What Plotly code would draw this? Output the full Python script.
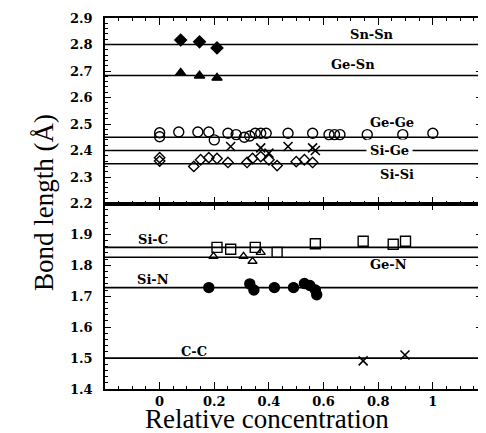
import numpy as np
import plotly.graph_objects as go
from plotly.subplots import make_subplots

# ---- data ----
# reference bond lengths (horizontal lines)
top_bonds = ["Sn-Sn", "Ge-Sn", "Ge-Ge", "Si-Ge", "Si-Si"]
top_lengths = [2.80, 2.683, 2.45, 2.40, 2.35]
bot_bonds = ["Si-C", "Ge-N", "Si-N", "C-C"]
bot_lengths = [1.858, 1.826, 1.728, 1.50]

snsn_x = [0.077, 0.146, 0.21]
snsn_y = [2.817, 2.81, 2.787]
gesn_x = [0.077, 0.146, 0.21]
gesn_y = [2.693, 2.682, 2.674]
gege_x = [0, 0, 0.07, 0.14, 0.18, 0.20, 0.25, 0.28, 0.31, 0.33, 0.35, 0.37, 0.39,
          0.47, 0.56, 0.62, 0.64, 0.66, 0.76, 0.89, 1.0]
gege_y = [2.467, 2.452, 2.47, 2.47, 2.47, 2.44, 2.465, 2.46, 2.45, 2.455, 2.465, 2.465,
          2.465, 2.465, 2.465, 2.46, 2.46, 2.46, 2.46, 2.46, 2.465]
sige_x = [0.26, 0.37, 0.40, 0.47, 0.56, 0.57]
sige_y = [2.415, 2.41, 2.39, 2.415, 2.41, 2.40]
sisi_x = [0, 0, 0.125, 0.15, 0.18, 0.21, 0.25, 0.32, 0.34, 0.37, 0.40, 0.43, 0.50, 0.53, 0.56]
sisi_y = [2.373, 2.36, 2.34, 2.365, 2.373, 2.37, 2.355, 2.355, 2.37, 2.377, 2.365, 2.343,
          2.358, 2.365, 2.355]
sic_x = [0.21, 0.26, 0.35, 0.43, 0.57, 0.745, 0.855, 0.9]
sic_y = [1.858, 1.852, 1.858, 1.842, 1.87, 1.878, 1.868, 1.878]
gen_x = [0.197, 0.307, 0.34, 0.37]
gen_y = [1.829, 1.829, 1.813, 1.842]
sin_x = [0.18, 0.33, 0.345, 0.42, 0.49, 0.53, 0.55, 0.57, 0.575]
sin_y = [1.728, 1.74, 1.72, 1.728, 1.728, 1.741, 1.735, 1.72, 1.705]
cc_x = [0.745, 0.898]
cc_y = [1.491, 1.51]

x_range = [-0.2, 1.18]
top_range = [2.2, 2.9]
bot_range = [1.4, 2.0]
x_ticks = [0, 0.2, 0.4, 0.6, 0.8, 1]
x_ticktext = ["0", "0.2", "0.4", "0.6", "0.8", "1"]
top_ticks = [2.2, 2.3, 2.4, 2.5, 2.6, 2.7, 2.8, 2.9]
bot_ticks = [1.4, 1.5, 1.6, 1.7, 1.8, 1.9]

fig = make_subplots(rows=2, cols=1, shared_xaxes=True, vertical_spacing=0,
                    row_heights=[0.5, 0.5])

for L in top_lengths:
    fig.add_trace(go.Scatter(x=x_range, y=[L, L], mode="lines",
                             line=dict(color="black", width=1.6),
                             showlegend=False, hoverinfo="skip"), row=1, col=1)
for L in bot_lengths:
    fig.add_trace(go.Scatter(x=x_range, y=[L, L], mode="lines",
                             line=dict(color="black", width=1.6),
                             showlegend=False, hoverinfo="skip"), row=2, col=1)

def pts(x, y, sym, size, row, lw=1.4):
    fig.add_trace(go.Scatter(x=x, y=y, mode="markers",
                             marker=dict(symbol=sym, size=size, color="black",
                                         line=dict(color="black", width=lw)),
                             showlegend=False), row=row, col=1)

pts(snsn_x, snsn_y, "diamond", 9, 1)
pts(gesn_x, gesn_y, "triangle-up", 9, 1)
pts(gege_x, gege_y, "circle-open", 10, 1)
pts(sige_x, sige_y, "x-thin-open", 9, 1, 1.6)
pts(sisi_x, sisi_y, "diamond-open", 8, 1)
pts(sic_x, sic_y, "square-open", 10, 2)
pts(gen_x, gen_y, "triangle-up-open", 8, 2)
pts(sin_x, sin_y, "circle", 10, 2)
pts(cc_x, cc_y, "x-thin-open", 9, 2, 1.6)

lab_font = dict(family="DejaVu Serif", size=13, color="black", weight="bold")
top_lab_pos = [(0.777, 2.836), (0.708, 2.723), (0.85, 2.505), (0.843, 2.40), (0.869, 2.309)]
bot_lab_pos = [(-0.026, 1.885), (0.836, 1.803), (-0.026, 1.754), (0.124, 1.52)]
for name, (px, py) in zip(top_bonds, top_lab_pos):
    bg = "white" if name == "Si-Ge" else None
    fig.add_annotation(x=px, y=py, xref="x", yref="y", text=name, showarrow=False,
                       font=lab_font, bgcolor=bg, borderpad=3)
for name, (px, py) in zip(bot_bonds, bot_lab_pos):
    fig.add_annotation(x=px, y=py, xref="x2", yref="y2", text=name, showarrow=False,
                       font=lab_font)

tick_font = dict(family="DejaVu Serif", size=13, color="black", weight="bold")
axis_common = dict(showline=True, linecolor="black", linewidth=1.5, mirror="ticks",
                   ticks="inside", tickcolor="black", showgrid=False, zeroline=False,
                   automargin=False)

minor_x = dict(tickvals=list(np.round(np.arange(-0.2, 1.18, 0.05), 3)), ticks="inside",
               ticklen=3, tickcolor="black")
fig.update_xaxes(range=x_range, tickvals=x_ticks, ticktext=x_ticktext, ticklen=7,
                 minor=minor_x, tickfont=tick_font, ticklabelstandoff=0, **axis_common)
fig.update_xaxes(showticklabels=False, row=1, col=1)

fig.update_yaxes(range=top_range, tickvals=top_ticks, ticktext=[f"{v:.1f}" for v in top_ticks],
                 ticklen=6, tickfont=tick_font, ticklabelstandoff=8,
                 minor=dict(dtick=0.02, tick0=2.2, ticks="inside", ticklen=3, tickcolor="black"),
                 row=1, col=1, **axis_common)
fig.update_yaxes(range=bot_range, tickvals=bot_ticks, ticktext=[f"{v:.1f}" for v in bot_ticks],
                 ticklen=6, tickfont=tick_font, ticklabelstandoff=8,
                 minor=dict(dtick=0.02, tick0=1.4, ticks="inside", ticklen=3, tickcolor="black"),
                 row=2, col=1, **axis_common)

title_font = dict(family="Liberation Serif", size=27, color="black")
fig.add_annotation(text="Relative concentration", xref="paper", yref="paper",
                   x=0.43, y=-0.082, yanchor="middle", showarrow=False, font=title_font)
fig.add_annotation(text="Bond length (Å)", xref="paper", yref="paper",
                   x=-0.207, y=0.504, textangle=-90, showarrow=False, font=title_font)

fig.update_layout(width=478, height=425, margin=dict(l=97, r=4, t=10, b=44),
                  plot_bgcolor="white", paper_bgcolor="white", showlegend=False)

fig.write_html("out.html")
